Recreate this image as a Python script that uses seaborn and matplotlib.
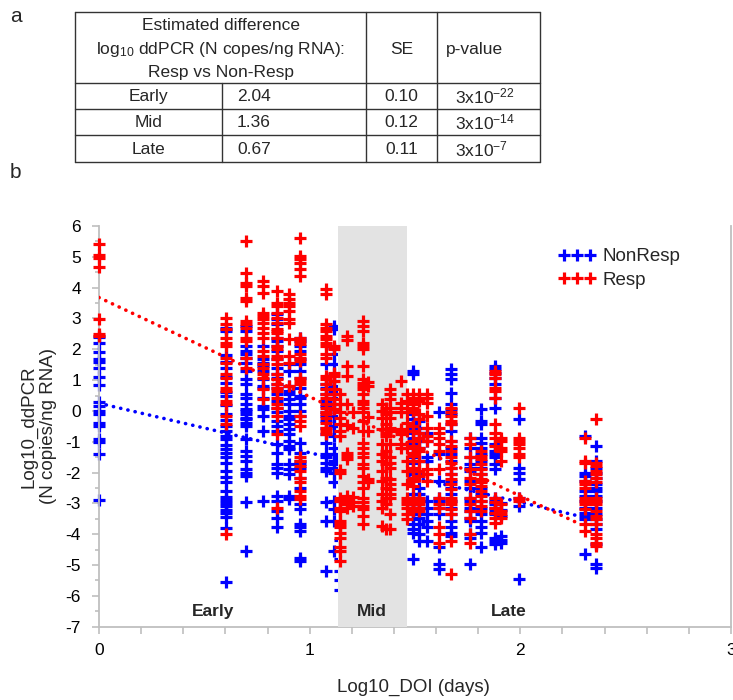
import numpy as np
import pandas as pd
import matplotlib
matplotlib.use("Agg")
import matplotlib.pyplot as plt
from matplotlib.lines import Line2D
import seaborn as sns

# ---------------- data ----------------
# table (panel a)
table_rows = ["Early", "Mid", "Late"]
table_diff = ["2.04", "1.36", "0.67"]
table_se = ["0.10", "0.12", "0.11"]
table_p_exp = ["-22", "-14", "-7"]

# scatter (panel b): days of infection per column, log10 ddPCR values
nr_d1 = [2.4, 2.2, 1.9, 1.7, 1.6, 1.4, 1.1, 0.85, 0.3, 0.15, 0.0, -0.1, -0.4, -0.5, -0.9, -1.0, -1.4, -2.9]
nr_d4 = [2.7, 2.6, 1.8, 1.6, 1.4, 1.1, 0.9, 0.6, 0.5, 0.2, -0.1, -0.3, -0.5, -0.65, -0.8, -0.9, -1.1, -1.25, -1.35,
         -1.5, -1.7, -1.95, -2.15, -2.3, -2.6, -2.8, -2.9, -3.0, -3.1, -3.2, -3.3, -3.45, -3.8, -5.55]
nr_d5 = [2.76, 2.6, 2.1, 1.95, 1.84, 1.73, 1.57, 1.3, 1.03, 0.87, 0.54, 0.43, 0.22, 0.05, 0.0, -0.11, -0.22, -0.27,
         -0.38, -0.49, -0.92, -1.3, -1.46, -1.62, -1.89, -2.0, -2.11, -2.97, -4.54]
nr_d6 = [2.11, 1.68, 1.57, 1.46, 1.3, 1.03, 0.81, 0.76, 0.43, 0.16, 0.05, -0.16, -0.65, -2.92]
nr_d7 = [3.14, 2.97, 2.81, 2.38, 2.27, 2.11, 1.95, 1.68, 1.4, 1.19, 1.08, 0.87, 0.76, 0.54, 0.32, 0.11, -0.05, -0.32,
         -0.49, -0.65, -1.08, -1.35, -1.73, -1.84, -2.0, -2.76, -2.92, -3.24, -3.46, -3.78]
nr_d8 = [1.51, 1.3, 0.81, 0.65, 0.54, 0.38, 0.22, 0.0, -0.16, -0.27, -0.43, -0.59, -0.76, -0.97, -1.14, -1.24,
         -1.73, -1.89, -2.05, -2.76, -2.86]
nr_d9 = [2.38, 2.27, 2.11, 1.95, 1.68, 1.51, 1.3, 1.08, 0.76, 0.49, 0.43, 0.22, 0.0, -0.16, -1.03, -1.35, -1.62,
         -1.73, -1.84, -2.16, -2.49, -3.03, -3.19, -3.68, -3.78, -3.89, -4.76, -4.87]
nr_d12 = [1.51, 0.87, 0.76, 0.54, 0.32, 0.16, -0.05, -0.16, -0.32, -0.54, -0.76, -1.03, -1.41, -1.51, -1.68, -1.84,
          -1.95, -2.97, -3.57, -5.19]
nr_d13 = [2.76, 2.65, 2.05, 1.84, 1.51, 1.19, 0.97, 0.81, 0.65, 0.43, 0.22, 0.05, -0.16, -0.5, -0.8, -1.19, -1.41,
          -1.62, -1.73, -1.84, -2.0, -2.32, -2.92, -3.19, -3.57, -4.54]
nr_d14 = [-0.5, -1.5, -3.6, -4.2, -4.8, -5.2, -5.5, -5.8]
nr_d31 = [1.3, 1.19, -0.11, -0.27, -0.38, -0.49, -0.59, -0.7, -0.87, -1.03, -1.19, -1.35, -1.51, -1.68, -2.05, -2.22,
          -2.7, -2.81, -2.92, -3.03, -3.14, -3.24, -3.35, -3.51, -3.68, -3.84, -3.95, -4.81]
nr_d33 = [-0.32, -0.54, -0.7, -0.97, -1.19, -1.62, -2.05, -2.49, -2.7, -2.81, -2.92, -3.14, -3.35, -3.46, -3.68, -4.0, -4.22]
nr_d36 = [-0.7, -0.97, -1.51, -1.62, -2.92, -3.14, -3.35, -3.57, -3.78, -4.22]
nr_d41 = [-0.05, -1.41, -2.27, -2.81, -2.92, -3.14, -3.35, -4.43, -4.97, -5.14]
nr_d47 = [1.35, 1.19, 1.03, 0.59, 0.22, 0.05, -0.11, -0.43, -0.65, -0.97, -1.19, -1.41, -1.62, -1.84, -2.05, -2.27,
          -2.49, -2.7, -2.92, -3.14, -3.35, -3.57, -3.78, -3.95, -4.05]
nr_d58 = [-0.87, -1.19, -1.51, -1.73, -1.84, -1.95, -2.27, -2.49, -2.81, -2.92, -3.14, -3.24, -3.46, -3.57, -4.0, -4.11, -4.97]
nr_d65 = [0.05, -0.32, -0.43, -0.87, -1.03, -1.19, -1.41, -1.62, -1.84, -2.05, -2.27, -2.49, -2.7, -2.92, -3.14,
          -3.35, -3.57, -3.78, -3.95, -4.43]
nr_d76 = [1.46, 1.35, 1.24, 1.08, 0.87, 0.43, 0.11, -1.08, -1.3, -1.41, -1.51, -1.73, -1.89, -2.81, -2.92, -3.03,
          -3.14, -3.24, -3.35, -4.11, -4.22, -4.32]
nr_d81 = [-3.0, -3.2, -3.4, -4.05, -4.2, -4.3]
nr_d99 = [-0.27, -1.84, -2.0, -2.22, -2.81, -3.08, -5.46]
nr_d203 = [-0.81, -2.0, -2.11, -2.27, -2.59, -2.76, -2.92, -3.14, -3.3, -3.41, -3.51, -4.65]
nr_d229 = [-1.14, -1.62, -1.84, -2.0, -2.16, -2.38, -2.49, -2.59, -2.76, -2.92, -3.14, -3.35, -3.51, -3.68, -3.84,
           -4.32, -4.97, -5.08]

r_d1 = [5.43, 5.06, 4.95, 4.67, 2.97, 2.49, 2.43]
r_d4 = [3.03, 2.81, 2.65, 2.38, 2.22, 2.11, 1.73, 1.57, 1.19, 1.08, 0.76, 0.65, 0.32, 0.22, -0.16, -0.43, -4.0]
r_d5 = [5.51, 4.49, 4.16, 4.05, 3.68, 3.57, 2.92, 2.81, 2.7, 2.38, 2.27, 1.73, 1.4]
r_d6 = [4.22, 4.05, 3.84, 3.19, 3.08, 2.97, 2.86, 2.7, 2.54, 2.38, 1.95, 1.78, 1.51, 1.4, 1.19, 1.08, 0.7, 0.38]
r_d7 = [3.89, 3.51, 3.41, 3.19, 3.03, 2.86, 2.65, 2.59, 2.54, 2.38, 2.11, 2.0, 1.78, 1.68, 1.51, 1.19, 1.03, 0.87,
        0.76, 0.65, 0.43, 0.22, 0.11, -0.16, -0.76, -3.14]
r_d8 = [3.78, 3.62, 3.51, 3.41, 3.24, 2.97, 2.86, 2.32, 1.78, 1.57, 0.81]
r_d9 = [5.62, 5.03, 4.92, 4.81, 4.6, 4.38, 2.38, 2.27, 2.16, 1.84, 1.73, 1.62, 1.08, 0.97, 0.87, -0.16, -0.32, -0.49,
        -1.51, -1.62, -1.78, -1.95, -2.16, -2.32, -2.59, -2.76, -2.86]
r_d12 = [3.95, 3.78, 2.81, 2.7, 2.59, 2.43, 2.32, 2.22, 2.11, 1.84, 1.73, 1.14, 1.03, 0.87, 0.7, 0.54, 0.43, 0.22,
         0.11, -0.05, -0.11, -0.22, -0.38, -0.54, -0.65, -0.76]
r_d13 = [2.11, 2.0, 1.24, 1.14, 0.97, 0.7, 0.54, 0.38, 0.22, 0.05]
r_d14 = [0.54, 0.22, -0.05, -0.22, -0.43, -0.65, -0.81, -1.9, -2.0, -2.81, -2.92, -3.14, -3.24, -3.57, -3.68, -3.78,
         -3.95, -4.11, -4.43, -4.54, -4.87]
r_d15 = [2.43, 2.3, 1.46, 1.14, 0.22, -0.45, -1.35, -1.46, -1.57, -2.76, -2.9, -3.03, -3.14]
r_d16 = [-0.05, -0.55, -2.8, -2.95, -3.1]
r_d18 = [2.92, 2.76, 2.59, 2.22, 2.11, 2.0, 1.46, 1.03, 0.92, 0.81, 0.7, 0.54, 0.32, 0.22, 0.11, -0.05, -0.32, -0.65,
         -1.03, -1.19, -1.35, -1.51, -1.73, -1.84, -2.11, -2.32, -2.49, -2.81, -2.97, -3.08, -3.19, -3.41, -3.68]
r_d19 = [0.95, 0.8, -0.2, -0.65, -2.2, -2.3]
r_d22 = [0.22, 0.0, -0.22, -0.59, -1.08, -1.41, -1.62, -1.95, -2.27, -2.7, -2.92, -3.14, -3.73]
r_d23 = [0.11, -0.11, -0.43, -0.7, -0.81, -1.3, -1.51, -1.73, -2.16, -2.49, -2.81, -3.03, -3.84]
r_d24 = [0.7, 0.54, 0.38, 0.11, -0.05, -0.22, -0.54, -0.65, -1.08, -1.51, -1.68, -1.84, -2.22, -2.38, -2.54, -2.7,
         -2.81, -3.35, -3.84]
r_d27 = [0.97, 0.27, 0.11, -0.05, -0.59, -0.65, -0.76, -1.08, -1.19]
r_d29 = [0.54, 0.32, -0.05, -0.38, -0.65, -1.19, -1.62, -1.95, -2.38, -2.81, -2.92, -3.03, -3.14, -3.35, -3.51]
r_d31 = [0.54, 0.43, 0.22, 0.11, 0.0, -0.49, -0.65, -0.97, -1.14, -1.35, -1.46, -1.62, -1.84, -1.95, -2.16, -2.27,
         -2.43, -2.81, -2.92, -3.03, -3.14, -3.24]
r_d33 = [0.54, 0.43, 0.32, -0.11, -0.27, -0.7, -0.87, -1.19, -1.3, -1.62, -1.95, -2.11, -2.81, -2.92, -3.03, -3.14, -3.24]
r_d36 = [0.54, 0.43, 0.27, -0.16, -0.54, -0.81, -0.97, -1.89, -2.05, -2.27]
r_d41 = [-0.54, -0.7, -0.87, -1.08, -1.3, -1.89, -2.81, -3.03, -3.14, -3.78, -4.0, -4.27]
r_d47 = [0.11, -0.05, -0.16, -0.32, -0.43, -0.97, -1.14, -1.3, -1.51, -1.68, -1.84, -2.05, -2.22, -2.38, -2.54,
         -2.81, -2.92, -3.03, -3.19, -3.35, -4.22, -5.3]
r_d58 = [-0.87, -1.08, -1.51, -1.89, -2.16, -2.38, -2.81, -3.03, -3.24, -3.46, -4.0, -4.27]
r_d65 = [-1.3, -1.46, -1.57, -1.73, -1.89, -2.05, -2.22, -2.32, -2.43, -2.59, -2.76, -2.92, -3.08, -3.24]
r_d76 = [1.3, 1.19, 1.08, 0.76, 0.65, 0.43, -0.43, -0.7, -0.87, -1.14, -2.81, -2.97, -3.14, -3.3, -3.46, -3.62]
r_d81 = [-0.87, -0.97, -1.19, -1.3, -1.62, -3.03, -3.24, -3.35, -3.46]
r_d99 = [0.11, -0.87, -0.97, -1.08, -1.19, -1.41, -1.51, -2.81, -2.92]
r_d203 = [-0.87, -1.62, -1.68, -2.27, -2.38, -2.49, -2.81, -2.92, -3.03, -3.19, -3.68, -3.89]
r_d229 = [-0.27, -1.68, -1.78, -1.95, -2.05, -2.16, -2.32, -2.81, -2.92, -3.03, -3.24, -3.41, -3.51, -3.68, -4.0,
          -4.11, -4.27, -4.38]

nonresp_days = [1, 4, 5, 6, 7, 8, 9, 12, 13, 14, 31, 33, 36, 41, 47, 58, 65, 76, 81, 99, 203, 229]
nonresp_cols = [nr_d1, nr_d4, nr_d5, nr_d6, nr_d7, nr_d8, nr_d9, nr_d12, nr_d13, nr_d14, nr_d31, nr_d33,
                nr_d36, nr_d41, nr_d47, nr_d58, nr_d65, nr_d76, nr_d81, nr_d99, nr_d203, nr_d229]
resp_days = [1, 4, 5, 6, 7, 8, 9, 12, 13, 14, 15, 16, 18, 19, 22, 23, 24, 27, 29, 31, 33, 36, 41, 47, 58, 65,
             76, 81, 99, 203, 229]
resp_cols = [r_d1, r_d4, r_d5, r_d6, r_d7, r_d8, r_d9, r_d12, r_d13, r_d14, r_d15, r_d16, r_d18, r_d19, r_d22,
             r_d23, r_d24, r_d27, r_d29, r_d31, r_d33, r_d36, r_d41, r_d47, r_d58, r_d65, r_d76, r_d81, r_d99,
             r_d203, r_d229]

# linear trend lines (endpoints, log10 DOI -> log10 ddPCR)
trend_x_resp = [0.0, 2.267]
trend_y_resp = [3.68, -3.62]
trend_x_nonresp = [0.0, 2.26]
trend_y_nonresp = [0.25, -3.38]

mid_window = [1.134, 1.462]
phase_labels = ["Early", "Mid", "Late"]
phase_label_x = [0.54, 1.296, 1.946]


def to_frame(days, cols, group):
    rows = []
    for d, ys in zip(days, cols):
        for y in ys:
            rows.append((np.log10(d), y, group))
    return pd.DataFrame(rows, columns=["log10_doi", "ddpcr", "group"])


df_nr = to_frame(nonresp_days, nonresp_cols, "NonResp")
df_r = to_frame(resp_days, resp_cols, "Resp")

# ---------------- style ----------------
sns.set_style("ticks")
plt.rcParams["font.family"] = ["Liberation Sans", "DejaVu Sans"]
plt.rcParams["mathtext.fontset"] = "custom"
plt.rcParams["mathtext.rm"] = "Liberation Sans"
plt.rcParams["mathtext.it"] = "Liberation Sans:italic"
plt.rcParams["mathtext.bf"] = "Liberation Sans:bold"

W, H = 733, 700
fig = plt.figure(figsize=(W / 100, H / 100), dpi=100)


def fx(px):
    return px / W


def fy(py):
    return 1 - py / H


# ---------------- panel a: table ----------------
fig.text(fx(10), fy(17), "a", fontsize=15, va="center", ha="left")
fig.text(fx(10), fy(172), "b", fontsize=15, va="center", ha="left")

tax = fig.add_axes([0, 0, 1, 1])
tax.set_xlim(0, W)
tax.set_ylim(H, 0)
tax.axis("off")
col_edges = [75, 222, 366, 437, 540]
row_edges = [12, 83, 108.5, 135, 161.5]
lc = "#333333"
lw = 1.0
for yv in row_edges:
    tax.plot([col_edges[0], col_edges[-1]], [yv, yv], color=lc, lw=lw)
for i, xv in enumerate(col_edges):
    if i == 1:
        tax.plot([xv, xv], [row_edges[1], row_edges[-1]], color=lc, lw=lw)
    else:
        tax.plot([xv, xv], [row_edges[0], row_edges[-1]], color=lc, lw=lw)
tfs = 12.5
hx = (col_edges[0] + col_edges[2]) / 2
tax.text(hx, 26, "Estimated difference", ha="center", va="center", fontsize=tfs)
tax.text(hx, 49.5, r"log$_{10}$ ddPCR (N copes/ng RNA):", ha="center", va="center", fontsize=tfs)
tax.text(hx, 72, "Resp vs Non-Resp", ha="center", va="center", fontsize=tfs)
tax.text((col_edges[2] + col_edges[3]) / 2, 49.5, "SE", ha="center", va="center", fontsize=tfs)
tax.text(446, 49.5, "p-value", ha="left", va="center", fontsize=tfs)
for i, lab in enumerate(table_rows):
    yc = (row_edges[i + 1] + row_edges[i + 2]) / 2 + 1
    tax.text((col_edges[0] + col_edges[1]) / 2, yc, lab, ha="center", va="center", fontsize=tfs)
    tax.text(237, yc, table_diff[i], ha="left", va="center", fontsize=tfs)
    tax.text((col_edges[2] + col_edges[3]) / 2, yc, table_se[i], ha="center", va="center", fontsize=tfs)
    tax.text(455, yc, "3x10$^{" + table_p_exp[i] + "}$", ha="left", va="center", fontsize=tfs)

# ---------------- panel b: scatter ----------------
x0, x1 = 99, 731
y0, y1 = 226, 626.7
ax = fig.add_axes([fx(x0), fy(y1), (x1 - x0) / W, (y1 - y0) / H])
ax.set_xlim(0, 3)
ax.set_ylim(-7, 6)

mk = dict(marker="+", s=72, linewidth=2.3)
sns.scatterplot(data=df_nr, x="log10_doi", y="ddpcr", color="#0000FF", ax=ax, zorder=2,
                legend=False, clip_on=False, **mk)
sns.lineplot(x=trend_x_nonresp, y=trend_y_nonresp, ax=ax, color="#0000FF", lw=2.6,
             linestyle=(0, (0.05, 2.0)), dash_capstyle="round", zorder=2.5)
ax.axvspan(mid_window[0], mid_window[1], color="#E3E3E3", zorder=3, lw=0)
sns.scatterplot(data=df_r, x="log10_doi", y="ddpcr", color="#FF0000", ax=ax, zorder=4,
                legend=False, clip_on=False, **mk)
sns.lineplot(x=trend_x_resp, y=trend_y_resp, ax=ax, color="#FF0000", lw=2.6,
             linestyle=(0, (0.05, 2.0)), dash_capstyle="round", zorder=5)

for lab, xv in zip(phase_labels, phase_label_x):
    ax.text(xv, -6.5, lab, ha="center", va="center", fontsize=12.5, fontweight="bold", zorder=6)

ax.set_xticks([0, 1, 2, 3])
ax.set_xticks(np.arange(0, 3.01, 0.2), minor=True)
ax.set_yticks(np.arange(-7, 7, 1))
ax.set_yticks(np.arange(-6.5, 6, 1.0), minor=True)
ax.set_xticklabels(["0", "1", "2", "3"])
ax.set_yticklabels([str(v) for v in range(-7, 7)])

spc = "#BFBFBF"
for s in ["left", "bottom", "right"]:
    ax.spines[s].set_color(spc)
    ax.spines[s].set_linewidth(1.3)
ax.spines["top"].set_visible(False)
ax.tick_params(axis="both", which="both", color=spc, width=1.2, labelsize=12.5, labelcolor="black")
ax.tick_params(axis="x", which="both", length=5, pad=7)
ax.tick_params(axis="y", which="major", length=5, pad=8)
ax.tick_params(axis="y", which="minor", length=3)

ax.set_xlabel("Log10_DOI (days)", fontsize=13.5)
ax.set_ylabel("Log10_ddPCR\n(N copies/ng RNA)", fontsize=13.5, linespacing=1.2)
ax.xaxis.set_label_coords(0.497, -0.13)
ax.yaxis.set_label_coords(-0.066, 0.5)

handles = [Line2D([], [], marker="+", linestyle="None", color="#0000FF", markersize=8.5, mew=2.3),
           Line2D([], [], marker="+", linestyle="None", color="#FF0000", markersize=8.5, mew=2.3)]
fig.legend(handles, ["NonResp", "Resp"], loc="upper left", bbox_to_anchor=(fx(558), fy(248)),
           numpoints=3, handlelength=2.0, handletextpad=0.4, labelspacing=0.35, frameon=False,
           fontsize=13.5, borderaxespad=0, borderpad=0)

fig.savefig("out.png", dpi=100)
